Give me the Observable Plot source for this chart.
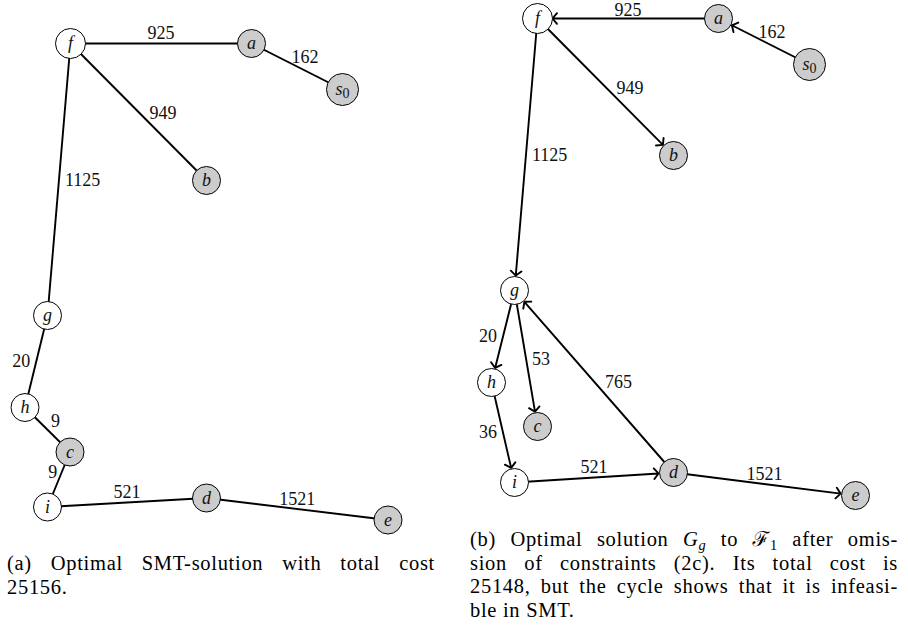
<!DOCTYPE html>
<html>
<head>
<meta charset="utf-8">
<script src="https://cdn.jsdelivr.net/npm/d3@7"></script>
<script src="https://cdn.jsdelivr.net/npm/@observablehq/plot@0.6"></script>
<style>
  html, body { margin: 0; padding: 0; background: #fff; }
  #wrap { position: relative; width: 908px; height: 627px; overflow: hidden;
          font-family: "Liberation Serif", "DejaVu Serif", serif; color: #000; }
  #wrap svg { position: absolute; left: 0; top: 0; background: transparent; }
  .cap { position: absolute; width: 428px; font-size: 20.5px; line-height: 23.5px; letter-spacing: 0.7px; }
  .cap .j { text-align: justify; text-align-last: justify; }
  .cap .l { text-align: left; }
  .sub { font-size: 0.7em; position: relative; top: 0.3em; line-height: 0; }
  .m { font-style: italic; }
  .cal { font-family: "DejaVu Serif", "Noto Sans", serif; font-style: normal; }
</style>
</head>
<body>
<div id="wrap"></div>
<script>
// ---------- Panel (a): optimal SMT solution (undirected) ----------
const nodeIdsA = ["f", "a", "s0", "b", "g", "h", "c", "i", "d", "e"];
const nodeXA   = [70, 251, 342, 206, 47, 24.5, 69.5, 47, 206, 387.5];
const nodeYA   = [43, 43, 89, 180, 315, 407, 451.5, 506.5, 497.5, 519.5];

const edgeFromA = ["f", "a", "f", "f", "g", "h", "c", "i", "d"];
const edgeToA   = ["a", "s0", "b", "g", "h", "c", "i", "d", "e"];
const edgeCostA = [925, 162, 949, 1125, 20, 9, 9, 521, 1521];
const edgeSideA = ["above", "above right", "right", "right", "left", "above right", "above left", "above", "above"];

// ---------- Panel (b): optimal solution G_g to F_1 (directed) ----------
const nodeIdsB = ["f", "a", "s0", "b", "g", "h", "c", "i", "d", "e"];
const nodeXB   = [537, 718, 809, 673, 514, 491, 537, 514, 673, 855];
const nodeYB   = [18, 18, 64, 155, 290, 382, 426, 482, 472, 495];

const edgeFromB = ["a", "s0", "f", "f", "g", "g", "d", "h", "i", "d"];
const edgeToB   = ["f", "a", "b", "g", "h", "c", "g", "i", "d", "e"];
const edgeCostB = [925, 162, 949, 1125, 20, 53, 765, 36, 521, 1521];
const edgeSideB = ["above", "above right", "right", "right", "left", "right", "right", "left", "above", "above"];

// terminals are drawn grey, Steiner nodes white
const terminals = ["a", "s0", "b", "c", "d", "e"];

// ---------- build tables ----------
function nodes(ids, xs, ys) {
  return ids.map((id, k) => ({id, x: xs[k], y: ys[k]}));
}
function edges(ns, from, to, cost, side) {
  const m = new Map(ns.map(n => [n.id, n]));
  return from.map((f, k) => {
    const a = m.get(f), b = m.get(to[k]);
    return {x1: a.x, y1: a.y, x2: b.x, y2: b.y, mx: (a.x + b.x) / 2, my: (a.y + b.y) / 2,
            cost: cost[k], side: side[k], diag: Math.abs(a.x - b.x) > 60};
  });
}
const nA = nodes(nodeIdsA, nodeXA, nodeYA);
const nB = nodes(nodeIdsB, nodeXB, nodeYB);
const eA = edges(nA, edgeFromA, edgeToA, edgeCostA, edgeSideA);
const eB = edges(nB, edgeFromB, edgeToB, edgeCostB, edgeSideB);
const allNodes = nA.concat(nB);
const allEdges = eA.concat(eB);

const radius = d => d.id === "s0" ? 16 : d.id === "f" ? 15 : 14;
const FONT = "Liberation Serif, DejaVu Serif, serif";

function labelMarks(data) {
  const groups = {
    "above":       {textAnchor: "middle", dx: 0,  dy: -10},
    "above right": {textAnchor: "middle", dx: 8,  dy: -9},
    "above left":  {textAnchor: "middle", dx: -6, dy: -7},
    "right":       {textAnchor: "start",  dx: 6,  dy: 1},
    "left":        {textAnchor: "end",    dx: -6, dy: 0}
  };
  return Object.entries(groups).map(([side, o]) =>
    Plot.text(data.filter(d => d.side === side), {
      x: "mx",
      // keep labels that sit above a top-row edge inside the picture
      y: d => Math.max(d.my + o.dy, 10),
      text: d => String(d.cost),
      textAnchor: o.textAnchor, dx: o.dx,
      fontSize: 18, fontFamily: FONT, fill: "#111"
    }));
}

const W = 908, H = 536;
const plot = Plot.plot({
  width: W, height: H,
  marginTop: 0, marginRight: 0, marginBottom: 0, marginLeft: 0,
  x: {domain: [0, W], range: [0, W], axis: null},
  y: {domain: [0, H], range: [0, H], axis: null},
  r: {type: "identity"},
  color: {type: "identity"},
  marks: [
    Plot.link(eA, {x1: "x1", y1: "y1", x2: "x2", y2: "y2", stroke: "#000", strokeWidth: 1.9}),
    Plot.arrow(eB, {x1: "x1", y1: "y1", x2: "x2", y2: "y2", stroke: "#000", strokeWidth: 1.9,
                    headAngle: 100, headLength: 5.5, insetEnd: 15, insetStart: 0}),
    Plot.dot(allNodes, {x: "x", y: "y", r: radius,
                        fill: d => terminals.includes(d.id) ? "#cccccc" : "#ffffff",
                        stroke: "#000", strokeWidth: 1}),
    Plot.text(allNodes, {x: "x", y: "y", text: "id", fontSize: 18, fontStyle: "italic",
                         fontFamily: FONT, fill: "#111"}),
    ...labelMarks(allEdges.filter(d => !(d.side === "right" && d.diag))),
    // labels right of the long diagonal edges sit a little further out
    Plot.text(allEdges.filter(d => d.side === "right" && d.diag), {
      x: "mx", y: "my", text: d => String(d.cost), textAnchor: "start", dx: 11, dy: 1,
      fontSize: 18, fontFamily: FONT, fill: "#111"
    })
  ]
});

// s0: italic s with an upright subscript 0
const NS = "http://www.w3.org/2000/svg";
plot.querySelectorAll("text").forEach(t => {
  if (t.textContent === "s0") {
    t.textContent = "";
    const s = document.createElementNS(NS, "tspan");
    s.textContent = "s";
    const z = document.createElementNS(NS, "tspan");
    z.textContent = "0";
    z.setAttribute("font-style", "normal");
    z.setAttribute("font-size", "14");
    z.setAttribute("dy", "3");
    t.appendChild(s); t.appendChild(z);
  }
});

const wrap = document.getElementById("wrap");
wrap.appendChild(plot);

const capA = document.createElement("div");
capA.className = "cap";
capA.style.left = "7px"; capA.style.top = "552px";
capA.innerHTML =
  '<div class="j">(a) Optimal SMT-solution with total cost</div>' +
  '<div class="l">25156.</div>';
wrap.appendChild(capA);

const capB = document.createElement("div");
capB.className = "cap";
capB.style.left = "470px"; capB.style.top = "528px";
capB.innerHTML =
  '<div class="j">(b) Optimal solution <span class="m">G</span><span class="sub m">g</span> to <span class="cal">ℱ</span><span class="sub">1</span> after omis-</div>' +
  '<div class="j">sion of constraints (2c). Its total cost is</div>' +
  '<div class="j">25148, but the cycle shows that it is infeasi-</div>' +
  '<div class="l">ble in SMT.</div>';
wrap.appendChild(capB);
</script>
</body>
</html>
